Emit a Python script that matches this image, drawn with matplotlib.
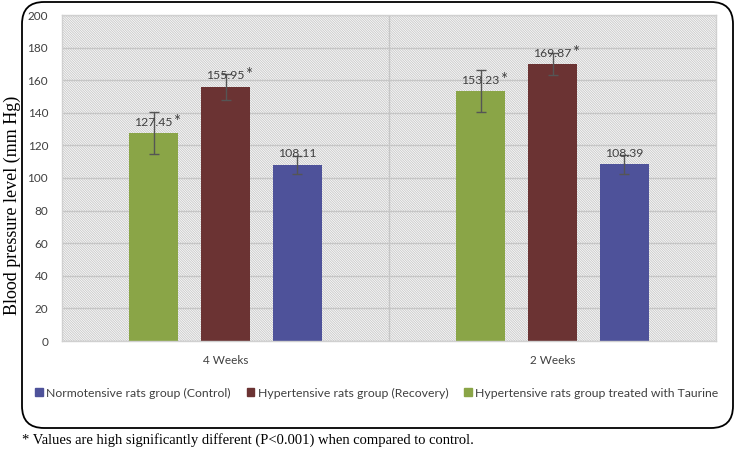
import matplotlib
matplotlib.use("Agg")
import matplotlib.pyplot as plt
from matplotlib.patches import FancyBboxPatch, Patch
import numpy as np

categories = ["4 Weeks", "2 Weeks"]
series_names = ["Hypertensive rats group treated with Taurine",
                "Hypertensive rats group (Recovery)",
                "Normotensive rats group (Control)"]
taurine = [127.45, 153.23]
recovery = [155.95, 169.87]
control = [108.11, 108.39]
taurine_err = [13.0, 12.8]
recovery_err = [7.8, 6.8]
control_err = [5.6, 5.8]
starred = [True, True, False]
colors = ["#8AA547", "#6B3333", "#4E529A"]
yticks = list(range(0, 201, 20))

plt.rcParams['font.family'] = ['Lato', 'DejaVu Sans']
plt.rcParams['hatch.linewidth'] = 0.7
fig = plt.figure(figsize=(7.36, 4.51), dpi=100)

# rounded border (in inches)
box = FancyBboxPatch((0.22, 4.51 - 4.28), 7.11, 4.26,
                     boxstyle="round,pad=0,rounding_size=0.22",
                     transform=fig.dpi_scale_trans, facecolor="none",
                     edgecolor="black", linewidth=1.3, zorder=5)
fig.patches.append(box)

ax = fig.add_axes([62/736, 1-341/451, (716-62)/736, (341-15)/451])
ax.set_facecolor("white")
ax.patch.set_hatch("\\" * 14)
ax.patch.set_edgecolor("#cccccc")
ax.patch.set_linewidth(0)

x = np.arange(len(categories))
offsets = [-0.22, 0.0, 0.22]
width = 0.15
vals = [taurine, recovery, control]
errs = [taurine_err, recovery_err, control_err]

ax.set_ylim(0, 200)
ax.set_xlim(-0.5, 1.5)
ax.set_yticks(yticks)
ax.yaxis.grid(True, color="#c6c6c6", linewidth=1.0)
ax.set_axisbelow(True)
ax.axvline(0.5, color="#c6c6c6", linewidth=1.0, zorder=1)

for i in range(3):
    ax.bar(x + offsets[i], vals[i], width, color=colors[i], zorder=2,
           yerr=errs[i], error_kw=dict(ecolor="#555555", elinewidth=1.0,
                                       capsize=3.5, capthick=1.0, zorder=3))
    for j in range(len(categories)):
        t = ax.annotate(f"{vals[i][j]:.2f}", xy=(x[j] + offsets[i], vals[i][j]),
                        xytext=(0, 4), textcoords="offset points", ha="center",
                        va="bottom", fontsize=8.8, color="#404040", zorder=4)
        if starred[i]:
            ax.annotate("*", xy=(1, 1), xycoords=t, xytext=(0, 2),
                        textcoords="offset points", ha="left", va="top",
                        fontsize=12, color="#404040", zorder=4)

ax.set_xticks(x)
ax.set_xticklabels(categories)
ax.tick_params(axis="both", length=0, labelsize=8.5, labelcolor="#404040")
ax.tick_params(axis="x", pad=10)
ax.tick_params(axis="y", pad=10)
for s in ax.spines.values():
    s.set_color("#d0d0d0")
    s.set_linewidth(1.0)

handles = [Patch(color=colors[2]), Patch(color=colors[1]), Patch(color=colors[0])]
labels = [series_names[2], series_names[1], series_names[0]]
fig.legend(handles, labels, loc="center", bbox_to_anchor=(377/736, 1-393/451),
           ncol=3, frameon=False, fontsize=8.8, handlelength=0.6, handleheight=0.6,
           handletextpad=0.3, columnspacing=1.3, labelcolor="#404040")

fig.text(12/736, 1-205/451, "Blood pressure level (mm Hg)", rotation=90,
         ha="center", va="center", fontsize=13, family="Liberation Serif")
fig.text(22/736, 1-440/451, "* Values are high significantly different (P<0.001) when compared to control.",
         ha="left", va="center", fontsize=10.5, family="Liberation Serif")

fig.savefig("out.png", dpi=100)
